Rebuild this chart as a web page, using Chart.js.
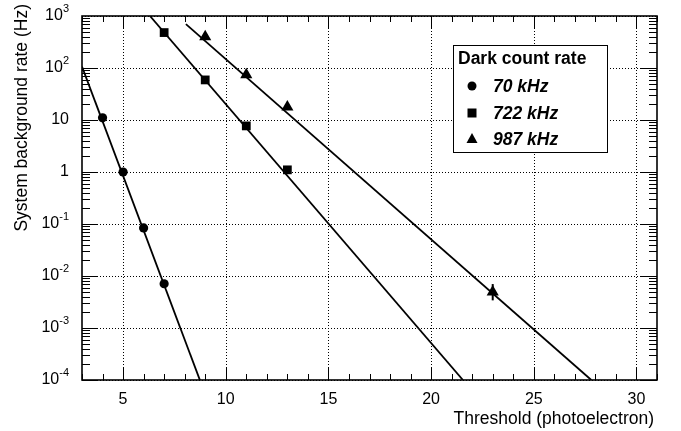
<!DOCTYPE html>
<html>
<head>
<meta charset="utf-8">
<script src="https://cdn.jsdelivr.net/npm/chart.js@4/dist/chart.umd.min.js"></script>
<style>
  body { margin: 0; background: #fff; }
  #c { display: block; }
</style>
</head>
<body>
<canvas id="c" width="681" height="431"></canvas>
<script>
// data
const labels = ['70 kHz', '722 kHz', '987 kHz'];
const thr70 = [4, 5, 6, 7];
const rate70 = [11, 1.0, 0.084, 0.0071];
const thr722 = [7, 9, 11, 13];
const rate722 = [480, 59, 7.7, 1.1];
const thr987 = [9, 11, 13, 23];
const rate987 = [400, 74, 17.8, 0.0049];
const err987Low = [null, null, null, 0.0034];
const err987High = [null, null, null, 0.0070];

// fitted lines (end points)
const fit70X = [3, 8.74];
const fit70Y = [106, 1e-4];
const fit722X = [6.31, 21.55];
const fit722Y = [1000, 1e-4];
const fit987X = [8.06, 27.8];
const fit987Y = [700, 1e-4];

const xTicks = [5, 10, 15, 20, 25, 30];
const yDecades = [-4, -3, -2, -1, 0, 1, 2, 3];
const xTitle = 'Threshold (photoelectron)';
const yTitle = 'System background rate (Hz)';
const legendTitle = 'Dark count rate';

const FONT = '"Liberation Sans", Arial, Helvetica, sans-serif';

function pts(xs, ys) {
  return xs.map((x, i) => ({ x: x, y: ys[i] }));
}

function fitLine(xs, ys) {
  return {
    type: 'line',
    data: pts(xs, ys),
    borderColor: '#000',
    borderWidth: 1.8,
    pointRadius: 0,
    fill: false,
    order: 2
  };
}

function markers(xs, ys, style, r) {
  return {
    type: 'scatter',
    data: pts(xs, ys),
    pointStyle: style,
    pointRadius: r,
    pointHoverRadius: r,
    backgroundColor: '#000',
    borderColor: '#000',
    borderWidth: 0,
    order: 1
  };
}

// axes, grid, frame, legend, error bars
const framePlugin = {
  id: 'frame',
  beforeDatasetsDraw(chart) {
    const { ctx, chartArea: a, scales } = chart;
    const xs = scales.x, ys = scales.y;
    ctx.save();
    ctx.strokeStyle = '#000';
    ctx.lineWidth = 1;
    ctx.setLineDash([1, 2]);
    xTicks.forEach(v => {
      const px = Math.round(xs.getPixelForValue(v)) + 0.5;
      ctx.beginPath(); ctx.moveTo(px, a.top); ctx.lineTo(px, a.bottom); ctx.stroke();
    });
    yDecades.forEach(k => {
      const py = Math.round(ys.getPixelForValue(Math.pow(10, k))) + 0.5;
      ctx.beginPath(); ctx.moveTo(a.left, py); ctx.lineTo(a.right, py); ctx.stroke();
    });
    ctx.restore();
  },
  afterDatasetsDraw(chart) {
    const { ctx, chartArea: a, scales } = chart;
    const xs = scales.x, ys = scales.y;
    ctx.save();
    ctx.strokeStyle = '#000';
    ctx.fillStyle = '#000';

    // error bars
    ctx.lineWidth = 2;
    thr987.forEach((x, i) => {
      if (err987Low[i] == null) return;
      const px = xs.getPixelForValue(x);
      ctx.beginPath();
      ctx.moveTo(px, ys.getPixelForValue(err987Low[i]));
      ctx.lineTo(px, ys.getPixelForValue(err987High[i]));
      ctx.stroke();
    });

    // ticks
    ctx.lineWidth = 1;
    for (let v = 3; v <= 31; v++) {
      const px = Math.round(xs.getPixelForValue(v)) + 0.5;
      const len = v % 5 === 0 ? 12 : 6;
      ctx.beginPath();
      ctx.moveTo(px, a.bottom); ctx.lineTo(px, a.bottom - len);
      ctx.moveTo(px, a.top); ctx.lineTo(px, a.top + len);
      ctx.stroke();
    }
    for (let k = -4; k < 3; k++) {
      for (let m = 1; m <= 9; m++) {
        const py = Math.round(ys.getPixelForValue(m * Math.pow(10, k))) + 0.5;
        const len = m === 1 ? 16 : 8;
        ctx.beginPath();
        ctx.moveTo(a.left, py); ctx.lineTo(a.left + len, py);
        ctx.moveTo(a.right, py); ctx.lineTo(a.right - len, py);
        ctx.stroke();
      }
    }

    // frame
    ctx.lineWidth = 1.6;
    ctx.strokeRect(a.left, a.top, a.right - a.left, a.bottom - a.top);

    // y tick labels with superscripts
    ctx.textBaseline = 'middle';
    yDecades.forEach(k => {
      const py = ys.getPixelForValue(Math.pow(10, k));
      const right = a.left - 13;
      if (k === 0 || k === 1) {
        ctx.font = '16px ' + FONT;
        ctx.textAlign = 'right';
        ctx.fillText(k === 0 ? '1' : '10', right, py);
      } else {
        ctx.font = '11px ' + FONT;
        const exp = String(k);
        const ew = ctx.measureText(exp).width;
        ctx.textAlign = 'left';
        ctx.fillText(exp, right - ew, py - 7);
        ctx.font = '16px ' + FONT;
        ctx.textAlign = 'right';
        ctx.fillText('10', right - ew, py);
      }
    });

    // axis titles
    ctx.textBaseline = 'alphabetic';
    ctx.font = '17.5px ' + FONT;
    ctx.textAlign = 'right';
    ctx.fillText(xTitle, a.right - 3, 424);
    ctx.save();
    ctx.translate(27, 4);
    ctx.rotate(-Math.PI / 2);
    ctx.fillText(yTitle, 0, 0);
    ctx.restore();

    // legend
    const lx = 453, ly = 45, lw = 154, lh = 107;
    ctx.fillStyle = '#fff';
    ctx.fillRect(lx, ly, lw, lh);
    ctx.lineWidth = 1;
    ctx.strokeStyle = '#000';
    ctx.strokeRect(lx + 0.5, ly + 0.5, lw, lh);
    ctx.fillStyle = '#000';
    ctx.textAlign = 'left';
    ctx.font = 'bold 17.5px ' + FONT;
    ctx.fillText(legendTitle, lx + 5, ly + 19);
    const rows = [ly + 41, ly + 68, ly + 94];
    const styles = ['circle', 'rect', 'triangle'];
    ctx.font = 'italic bold 17.5px ' + FONT;
    labels.forEach((t, i) => {
      const cy = rows[i], cx = lx + 19;
      ctx.beginPath();
      if (styles[i] === 'circle') {
        ctx.arc(cx, cy, 4.5, 0, Math.PI * 2);
      } else if (styles[i] === 'rect') {
        ctx.rect(cx - 4.5, cy - 4.5, 9, 9);
      } else {
        ctx.moveTo(cx, cy - 6); ctx.lineTo(cx + 5.5, cy + 4); ctx.lineTo(cx - 5.5, cy + 4); ctx.closePath();
      }
      ctx.fill();
      ctx.fillText(t, lx + 40, cy + 6);
    });
    ctx.restore();
  }
};

new Chart(document.getElementById('c').getContext('2d'), {
  data: {
    datasets: [
      markers(thr70, rate70, 'circle', 4.6),
      markers(thr722, rate722, 'rect', 6.2),
      markers(thr987, rate987, 'triangle', 7),
      fitLine(fit70X, fit70Y),
      fitLine(fit722X, fit722Y),
      fitLine(fit987X, fit987Y)
    ]
  },
  options: {
    responsive: false,
    animation: false,
    devicePixelRatio: 1,
    layout: { padding: { top: 16, right: 24, left: 0, bottom: 0 } },
    plugins: { legend: { display: false }, tooltip: { enabled: false } },
    scales: {
      x: {
        type: 'linear',
        min: 3,
        max: 31,
        grid: { display: false, drawTicks: false },
        border: { display: false },
        ticks: {
          stepSize: 1,
          autoSkip: false,
          maxRotation: 0,
          padding: 10,
          color: '#000',
          font: { family: FONT, size: 16 },
          callback: v => (v % 5 === 0 ? String(v) : '')
        },
        afterFit: s => { s.height = 51; }
      },
      y: {
        type: 'logarithmic',
        min: 1e-4,
        max: 1e3,
        grid: { display: false },
        border: { display: false },
        ticks: { display: false },
        afterFit: s => { s.width = 82; }
      }
    }
  },
  plugins: [framePlugin]
});
</script>
</body>
</html>
